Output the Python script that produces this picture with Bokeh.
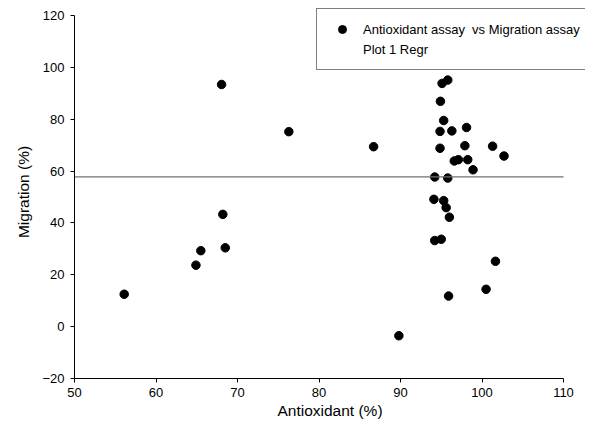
from bokeh.plotting import figure
from bokeh.models import Legend, LegendItem, ColumnDataSource, FixedTicker, Range1d
from bokeh.embed import file_html
from bokeh.resources import INLINE

# data
antioxidant = [56.1, 64.9, 65.5, 68.05, 68.2, 68.5, 76.3, 86.7, 89.8, 94.1,
               94.2, 94.2, 94.85, 94.85, 94.9, 95.0, 95.1, 95.3, 95.3, 95.6,
               95.8, 95.8, 95.9, 96.0, 96.3, 96.6, 97.1, 97.9, 98.1, 98.25,
               98.9, 100.5, 101.3, 101.65, 102.7]
migration = [12.5, 23.7, 29.3, 93.4, 43.3, 30.4, 75.2, 69.4, -3.5, 49.1,
             57.7, 33.2, 75.3, 68.8, 86.9, 33.7, 93.8, 79.5, 48.6, 45.9,
             57.3, 95.1, 11.8, 42.2, 75.5, 63.9, 64.4, 69.8, 76.8, 64.4,
             60.5, 14.4, 69.6, 25.2, 65.8]
regr_x = [50, 110]
regr_y = [57.8, 57.8]
x_ticks = [50, 60, 70, 80, 90, 100, 110]
y_ticks = [-20, 0, 20, 40, 60, 80, 100, 120]
series_label = "Antioxidant assay  vs Migration assay"
regr_label = "Plot 1 Regr"

FONT = "Liberation Sans"

# frame runs to the canvas edges so the legend is not cut; the axes
# themselves are bounded to the data ranges 50..110 and -20..120
p = figure(width=585, height=425, output_backend="svg", toolbar_location=None,
           x_range=Range1d(50, 50 + 511 * 60 / 489),
           y_range=Range1d(-20, -20 + 373 * 140 / 363),
           min_border_left=74, min_border_right=0, min_border_top=5,
           min_border_bottom=47)
p.outline_line_color = None
p.xgrid.visible = False
p.ygrid.visible = False

src = ColumnDataSource(dict(x=antioxidant, y=migration))
pts = p.scatter("x", "y", source=src, size=8.5, fill_color="black",
                line_color="black")
regr = p.line(regr_x, regr_y, line_color="#707070", line_width=1.2)
dummy = p.line(x=[], y=[], line_alpha=0)

for ax, ticks in ((p.xaxis, x_ticks), (p.yaxis, y_ticks)):
    ax.ticker = FixedTicker(ticks=ticks)
    ax.minor_tick_line_color = None
    ax.major_tick_in = 0
    ax.major_tick_out = 4
    ax.axis_line_color = "black"
    ax.major_tick_line_color = "black"
    ax.major_label_text_font = FONT
    ax.major_label_text_font_size = "13px"
    ax.major_label_text_color = "black"
    ax.axis_label_text_font = FONT
    ax.axis_label_text_font_size = "15.5px"
    ax.axis_label_text_font_style = "normal"
    ax.axis_label_text_color = "black"

p.xaxis.bounds = (50, 110)
p.yaxis.bounds = (-20, 120)
p.xaxis.axis_label = "Antioxidant (%)"
p.yaxis.axis_label = "Migration (%)"
p.xaxis.major_label_standoff = 5
p.xaxis.axis_label_standoff = 2
p.yaxis.major_label_standoff = 6
p.yaxis.axis_label_standoff = 7

legend = Legend(items=[LegendItem(label=series_label, renderers=[pts]),
                       LegendItem(label=regr_label, renderers=[dummy])],
                location=(242, 308), margin=0, padding=10, spacing=-4,
                glyph_width=30, glyph_height=20, label_height=17,
                label_standoff=6, label_text_font=FONT,
                label_text_font_size="13px", label_text_color="black",
                border_line_color="black", border_line_width=1,
                background_fill_color="white", background_fill_alpha=1)
p.add_layout(legend, "center")

open("out.html", "w").write(file_html(p, INLINE))
